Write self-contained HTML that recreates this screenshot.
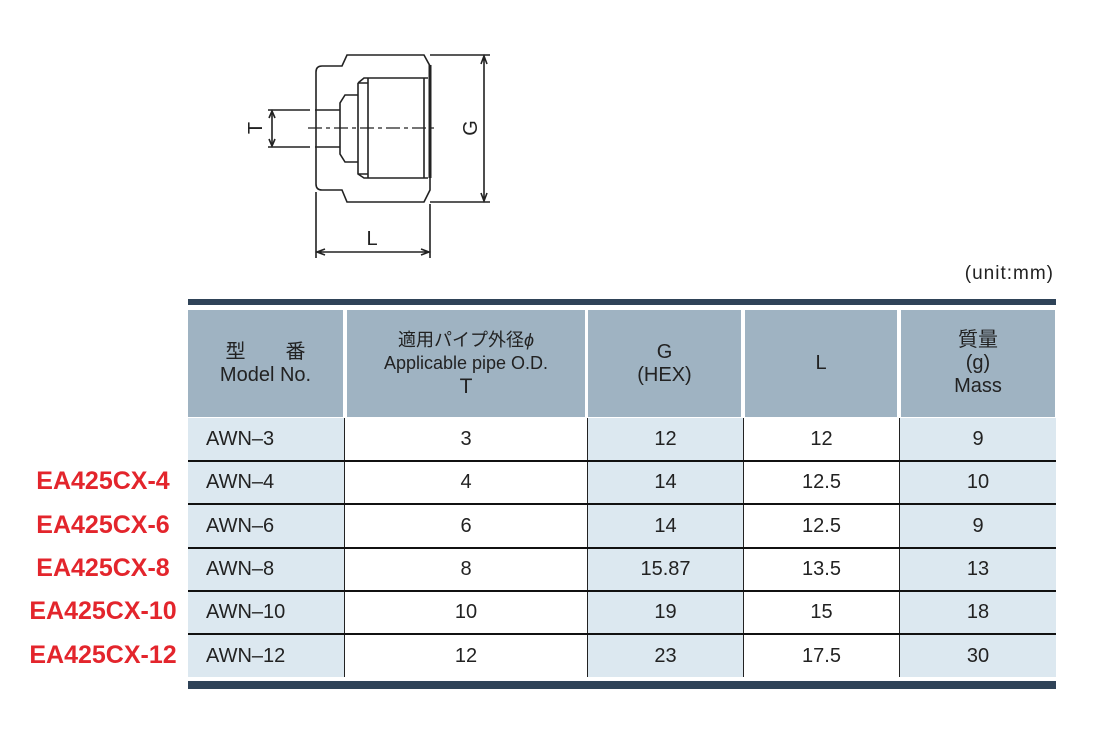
<!DOCTYPE html>
<html><head><meta charset="utf-8"><style>
body{margin:0;width:1096px;height:743px;background:#fff;position:relative;overflow:hidden;font-family:"Liberation Sans","Noto Sans CJK JP",sans-serif;color:#222}
.a{position:absolute}
.h{position:absolute;background:#9fb3c2;top:310px;height:107px;display:flex;align-items:center;justify-content:center;text-align:center;font-size:20px;line-height:23px;color:#222}
.c{position:absolute;height:43px;display:flex;align-items:center;justify-content:center;font-size:20px}
.r{position:absolute;left:0;width:206px;text-align:center;color:#e3252c;font-weight:bold;font-size:25px;height:43px;line-height:43px}
</style></head><body>
<svg class="a" style="left:0;top:0" width="1096" height="290" stroke="#222" fill="none" stroke-width="1.6">
<path d="M322,66 H342 L347,55 H424 L430,66 V190 L424,202 H347 L342,190 H322 Q316,190 316,184 V72 Q316,66 322,66 Z"/>
<line x1="430" y1="65" x2="430" y2="178" stroke-width="3"/>
<path d="M358,83 L364,78 H428 M358,83 V174 L364,178 H428 M368,78 V178 M358,83 H368 M358,174 H368 M424,78 V178"/>
<path d="M358,95 H345 L340,103 V154 L345,162 H358"/>
<path d="M315,110 H340 M315,147 H340 M268,110 H310 M268,147 H310"/>
<path d="M308,128 H438" stroke-dasharray="14,4,4,4" stroke-width="1.2"/>
<line x1="272" y1="112" x2="272" y2="145"/>
<path d="M269,118 L272,111 L275,118 M269,139 L272,146 L275,139"/>
<path d="M430,55 H490 M430,202 H490 M484,57 V200 M481,64 L484,56 L487,64 M481,193 L484,201 L487,193"/>
<path d="M316,192 V258 M430,204 V258 M318,252 H428 M325,249 L317,252 L325,255 M421,249 L429,252 L421,255"/>
<g fill="#222" stroke="none" font-size="20" font-family="Liberation Sans,sans-serif">
<text x="0" y="0" transform="translate(262,128) rotate(-90)" text-anchor="middle">T</text>
<text x="0" y="0" transform="translate(477,128) rotate(-90)" text-anchor="middle">G</text>
<text x="372" y="245" text-anchor="middle">L</text>
</g>
</svg>
<div class="a" style="right:42px;top:263px;font-size:19px;letter-spacing:1px">(unit:mm)</div>
<div class="a" style="left:188px;top:299px;width:868px;height:6px;background:#2f4358"></div>
<div class="h" style="left:188px;width:155px"><div>型　　番<br>Model No.</div></div>
<div class="h" style="left:347px;width:238px;font-size:18px"><div style="white-space:nowrap">適用パイプ外径<i>ϕ</i><br>Applicable pipe O.D.<br><span style="font-size:21px">T</span></div></div>
<div class="h" style="left:588px;width:153px"><div>G<br>(HEX)</div></div>
<div class="h" style="left:745px;width:152px"><div>L</div></div>
<div class="h" style="left:901px;width:154px"><div>質量<br>(g)<br>Mass</div></div>
<div class="a" style="left:188px;top:418px;width:156px;height:259px;background:#dce8f0"></div>
<div class="a" style="left:588px;top:418px;width:155px;height:259px;background:#dce8f0"></div>
<div class="a" style="left:900px;top:418px;width:156px;height:259px;background:#dce8f0"></div>
<div class="a" style="left:344px;top:418px;width:1px;height:259px;background:#222"></div>
<div class="a" style="left:587px;top:418px;width:1px;height:259px;background:#222"></div>
<div class="a" style="left:743px;top:418px;width:1px;height:259px;background:#222"></div>
<div class="a" style="left:899px;top:418px;width:1px;height:259px;background:#222"></div>
<div class="a" style="left:188px;top:460px;width:868px;height:2px;background:#111"></div>
<div class="a" style="left:188px;top:503px;width:868px;height:2px;background:#111"></div>
<div class="a" style="left:188px;top:547px;width:868px;height:2px;background:#111"></div>
<div class="a" style="left:188px;top:590px;width:868px;height:2px;background:#111"></div>
<div class="a" style="left:188px;top:633px;width:868px;height:2px;background:#111"></div>
<div class="a" style="left:188px;top:681px;width:868px;height:8px;background:#2f4358"></div>
<div id="rows"></div>
<script>
var d=[["AWN-3","3","12","12","9",""],["AWN-4","4","14","12.5","10","EA425CX-4"],["AWN-6","6","14","12.5","9","EA425CX-6"],["AWN-8","8","15.87","13.5","13","EA425CX-8"],["AWN-10","10","19","15","18","EA425CX-10"],["AWN-12","12","23","17.5","30","EA425CX-12"]];
var xs=[[188,156],[345,242],[588,155],[744,155],[900,156]],h="";
d.forEach(function(r,i){var y=418+i*43.3;
for(var j=0;j<5;j++){var st="left:"+xs[j][0]+"px;width:"+xs[j][1]+"px;top:"+y+"px;";
if(j==0)st+="justify-content:flex-start;padding-left:18px;box-sizing:border-box;";
h+='<div class="c" style="'+st+'">'+r[j].replace("-","–")+'</div>';}
if(r[5])h+='<div class="r" style="top:'+(y-1)+'px">'+r[5]+'</div>';});
document.getElementById("rows").innerHTML=h;
</script>
</body></html>
